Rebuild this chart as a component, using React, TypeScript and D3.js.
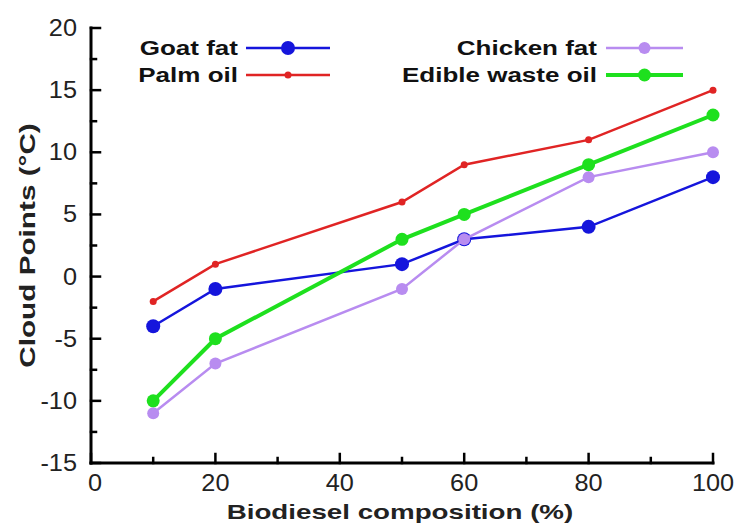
import { useEffect, useRef } from 'react';
import * as d3 from 'd3';

const COMPOSITION = [10, 20, 50, 60, 80, 100];
const GOAT_FAT = [-4, -1, 1, 3, 4, 8];
const PALM_OIL = [-2, 1, 6, 9, 11, 15];
const CHICKEN_FAT = [-11, -7, -1, 3, 8, 10];
const WASTE_OIL = [-10, -5, 3, 5, 9, 13];

const X_TICKS = [0, 20, 40, 60, 80, 100];
const Y_TICKS = [-15, -10, -5, 0, 5, 10, 15, 20];

interface Series {
  name: string;
  values: number[];
  color: string;
  width: number;
  r: number;
}

const SERIES: Series[] = [
  { name: 'Goat fat', values: GOAT_FAT, color: '#1515dc', width: 2.5, r: 7 },
  { name: 'Palm oil', values: PALM_OIL, color: '#e02424', width: 2.5, r: 3.5 },
  { name: 'Chicken fat', values: CHICKEN_FAT, color: '#b88cf0', width: 2.5, r: 6 },
  { name: 'Edible waste oil', values: WASTE_OIL, color: '#1ee01e', width: 4, r: 6.5 },
];

// stretch text horizontally along its reading direction
function widen(sel: d3.Selection<SVGTextElement, any, any, any>, factor: number) {
  sel.each(function () {
    const w = this.getComputedTextLength();
    d3.select(this).attr('textLength', w * factor).attr('lengthAdjust', 'spacingAndGlyphs');
  });
}

export default function App() {
  const svgRef = useRef<SVGSVGElement>(null);

  useEffect(() => {
    const el = svgRef.current;
    if (!el) return;
    const svg = d3.select(el);
    svg.selectAll('*').remove();

    const x = d3.scaleLinear().domain([0, 100]).range([91, 713]);
    const y = d3.scaleLinear().domain([-15, 20]).range([463, 28]);
    const font = "'Liberation Sans', Arial, sans-serif";

    // Axes
    const ax = svg.append('g').attr('stroke', '#000').attr('stroke-linecap', 'square');
    ax.append('line').attr('x1', x(0)).attr('x2', x(0)).attr('y1', y(20)).attr('y2', y(-15)).attr('stroke-width', 3);
    ax.append('line').attr('x1', x(0)).attr('x2', x(100)).attr('y1', y(-15)).attr('y2', y(-15)).attr('stroke-width', 3);

    d3.range(-15, 20.1, 2.5).forEach((v) => {
      const major = v % 5 === 0;
      ax.append('line')
        .attr('x1', x(0)).attr('x2', x(0) + (major ? 9 : 5))
        .attr('y1', y(v)).attr('y2', y(v)).attr('stroke-width', 2.5);
    });
    d3.range(0, 100.1, 10).forEach((v) => {
      const major = v % 20 === 0;
      ax.append('line')
        .attr('x1', x(v)).attr('x2', x(v))
        .attr('y1', y(-15)).attr('y2', y(-15) - (major ? 9 : 5)).attr('stroke-width', 2.5);
    });

    const yLabels = svg.append('g').selectAll<SVGTextElement, number>('text').data(Y_TICKS).join('text')
      .attr('x', x(0) - 14).attr('y', (d) => y(d) + 8)
      .attr('text-anchor', 'end').attr('font-size', 23).attr('font-family', font).attr('fill', '#222')
      .text((d) => d);
    widen(yLabels, 1.1);
    const xLabels = svg.append('g').selectAll<SVGTextElement, number>('text').data(X_TICKS).join('text')
      .attr('x', (d) => x(d) + (d === 0 ? 4 : 0)).attr('y', y(-15) + 28)
      .attr('text-anchor', 'middle')
      .attr('font-size', 23).attr('font-family', font).attr('fill', '#222')
      .text((d) => d);
    widen(xLabels, 1.1);

    const yTitle = svg.append('text')
      .attr('transform', `translate(35,${y(2.5)}) rotate(-90)`)
      .attr('text-anchor', 'middle').attr('font-size', 22).attr('font-weight', 'bold')
      .attr('font-family', font).attr('fill', '#222')
      .text('Cloud Points (°C)');
    widen(yTitle, 1.35);
    const xTitle = svg.append('text')
      .attr('x', 400).attr('y', 519)
      .attr('text-anchor', 'middle').attr('font-size', 21).attr('font-weight', 'bold')
      .attr('font-family', font).attr('fill', '#222')
      .text('Biodiesel composition (%)');
    widen(xTitle, 1.32);

    // Lines
    const line = d3.line<number>().x((_, i) => x(COMPOSITION[i])).y((d) => y(d));
    SERIES.forEach((s) => {
      const g = svg.append('g');
      g.append('path').attr('d', line(s.values)).attr('fill', 'none')
        .attr('stroke', s.color).attr('stroke-width', s.width);
      g.selectAll('circle').data(s.values).join('circle')
        .attr('cx', (_, i) => x(COMPOSITION[i])).attr('cy', (d) => y(d))
        .attr('r', s.r).attr('fill', s.color);
    });

    // Legend
    const legendPos = [
      { tx: 238, lx1: 246, lx2: 330, y: 48 },
      { tx: 238, lx1: 246, lx2: 330, y: 75 },
      { tx: 597, lx1: 606, lx2: 683, y: 48 },
      { tx: 597, lx1: 606, lx2: 683, y: 75 },
    ];
    SERIES.forEach((s, i) => {
      const p = legendPos[i];
      const g = svg.append('g');
      const t = g.append('text').attr('x', p.tx).attr('y', p.y + 7)
        .attr('text-anchor', 'end').attr('font-size', 20).attr('font-weight', 'bold')
        .attr('font-family', font).attr('fill', '#111').text(s.name);
      widen(t, 1.3);
      g.append('line').attr('x1', p.lx1).attr('x2', p.lx2).attr('y1', p.y).attr('y2', p.y)
        .attr('stroke', s.color).attr('stroke-width', s.width);
      g.append('circle').attr('cx', (p.lx1 + p.lx2) / 2).attr('cy', p.y).attr('r', s.r).attr('fill', s.color);
    });
  }, []);

  return (
    <svg
      ref={svgRef}
      width={739}
      height={527}
      style={{ position: 'absolute', left: 0, top: 0, background: '#fff' }}
    />
  );
}
